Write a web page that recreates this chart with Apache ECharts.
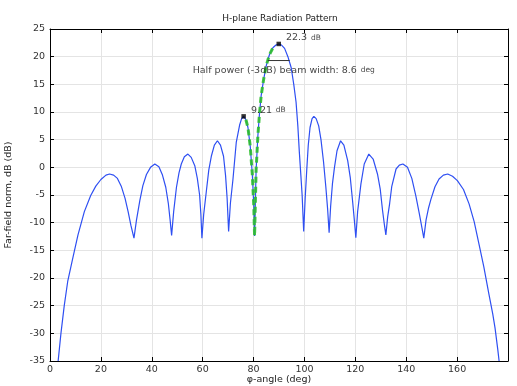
<!DOCTYPE html>
<html>
<head>
<meta charset="utf-8">
<script src="https://cdn.jsdelivr.net/npm/echarts@6/dist/echarts.min.js"></script>
<style>html,body{margin:0;padding:0;background:#fff;}#c{width:517px;height:386px;}</style>
</head>
<body>
<div id="c"></div>
<script>
// φ-angle (deg) and far-field norm (dB)
const angleDeg = [
  3.2, 4.3, 5.6, 7.0, 9.0, 11.0, 13.5, 16.0, 18.0, 20.0, 22.0, 23.4, 25.0, 26.5, 28.0, 29.5, 30.7, 31.8, 33.0,
  34.0, 35.3, 36.5, 37.9, 39.5, 41.2, 42.8, 44.2, 45.5, 46.5, 47.2, 47.8,
  48.6, 49.7, 50.7, 51.6, 52.8, 54.2, 55.5, 56.9, 57.9, 58.8, 59.3, 59.7,
  60.4, 61.4, 62.4, 63.4, 64.6, 65.8, 67.0, 68.2, 69.0, 69.6, 70.2,
  70.9, 71.9, 73.2, 74.5, 75.3, 76.1, 77.0, 77.8, 78.7, 79.5, 80.1, 80.4,
  81.0, 81.7, 82.3, 83.0, 84.0, 85.0, 86.2, 87.6, 88.8, 89.9, 91.0, 92.2, 93.5, 94.8, 95.8, 96.7, 97.4, 98.0, 98.6, 99.1, 99.7,
  100.3, 100.9, 101.5, 102.2, 103.0, 103.7, 104.6, 105.6, 106.5, 107.5, 108.4, 109.1, 109.7,
  110.3, 111.0, 111.8, 112.8, 114.2, 115.5, 117.0, 118.0, 118.9, 119.6, 120.2,
  120.9, 122.2, 123.5, 125.3, 127.0, 128.7, 129.8, 130.7, 131.4, 132.0,
  132.7, 133.5, 134.3, 136.0, 137.3, 138.7, 140.5, 142.2, 143.8, 145.2, 146.2, 146.9,
  147.8, 148.8, 149.7, 151.3, 152.9, 154.6, 156.3, 158.2, 160.1, 162.5, 164.7, 166.7, 168.6, 170.5, 172.5, 174.0, 174.9, 176.0, 176.5
];
const farFieldDb = [
  -35, -30, -25, -20.5, -16.3, -12.2, -8.0, -5.1, -3.4, -2.2, -1.4, -1.2, -1.4, -2.0, -3.4, -5.6, -8.0, -10.5, -12.8,
  -9.5, -6.0, -3.3, -1.3, 0.0, 0.6, 0.1, -1.4, -3.6, -6.5, -9.5, -12.3,
  -8.0, -3.6, -1.0, 0.6, 1.9, 2.4, 1.8, 0.3, -2.0, -5.0, -8.5, -12.8,
  -8.5, -4.5, -0.5, 2.0, 4.0, 4.8, 4.0, 2.0, -1.5, -5.5, -11.6,
  -6.5, -2.2, 4.5, 7.6, 8.8, 9.21, 8.6, 7.2, 3.8, -1.2, -7.0, -12.4,
  -0.5, 5.7, 9.5, 13.0, 16.0, 18.4, 20.3, 21.6, 22.1, 22.3, 22.1, 21.5, 20.0, 18.0, 15.0, 11.8, 7.5, 2.7, -1.5, -5.1, -11.6,
  -5.5, -0.5, 4.0, 7.2, 8.8, 9.2, 8.8, 7.5, 5.0, 1.0, -3.5, -7.5, -11.8,
  -7.0, -3.0, 0.0, 3.0, 4.8, 4.0, 1.2, -1.8, -6.0, -9.5, -12.7,
  -8.0, -3.0, 0.6, 2.4, 1.5, -1.2, -4.0, -7.8, -10.3, -12.2,
  -9.0, -6.5, -3.5, -0.3, 0.4, 0.6, 0.0, -2.0, -5.2, -8.5, -11.0, -12.8,
  -9.5, -7.3, -5.8, -3.5, -2.1, -1.4, -1.2, -1.6, -2.4, -4.0, -6.6, -9.8, -13.9, -18.0, -22.9, -26.5, -29.0, -33.0, -35
];
// highlighted stretch (green dashed) between the first side-lobe peak and the main peak
const highlightRange = [77.0, 87.6];
// peak markers
const peakAngles = [76.1, 89.9];
const peakValues = [9.21, 22.3];
const peakLabels = ['9.21', '22.3'];
// half power beam width line
const halfPowerAngles = [85.6, 94.2];
const halfPowerLevel = 19.3;
const beamWidthLabel = '8.6';

const curve = angleDeg.map((a, i) => [a, farFieldDb[i]]);
const highlight = curve.filter(p => p[0] >= highlightRange[0] && p[0] <= highlightRange[1]);
const peaks = peakAngles.map((a, i) => ({ value: [a, peakValues[i]], name: peakLabels[i] }));
const hpLine = halfPowerAngles.map(a => [a, halfPowerLevel]);
const hpMid = [(halfPowerAngles[0] + halfPowerAngles[1]) / 2, halfPowerLevel];

const FONT = 'DejaVu Sans';
const gridColor = '#e4e4e4';
const chart = echarts.init(document.getElementById('c'), null, { renderer: 'canvas' });

const baseX = {
  type: 'value', min: 0, max: 180, interval: 20,
  axisLine: { show: true, onZero: false, lineStyle: { color: '#000', width: 1 } },
  axisTick: { show: true, inside: true, length: 4, lineStyle: { color: '#000' } },
  splitLine: { show: false }
};
const baseY = {
  type: 'value', min: -35, max: 25, interval: 5,
  axisLine: { show: true, onZero: false, lineStyle: { color: '#000', width: 1 } },
  axisTick: { show: true, inside: true, length: 4, lineStyle: { color: '#000' } },
  splitLine: { show: false }
};

chart.setOption({
  animation: false,
  backgroundColor: '#fff',
  textStyle: { fontFamily: FONT },
  title: {
    text: 'H-plane Radiation Pattern',
    left: 275, top: 9, textAlign: 'center',
    textStyle: { fontFamily: FONT, fontSize: 9, fontWeight: 'normal', color: '#222' }
  },
  grid: { left: 50, right: 9, top: 29, bottom: 25, containLabel: false, outerBoundsMode: 'none' },
  xAxis: [
    Object.assign({}, baseX, {
      position: 'bottom',
      name: 'φ-angle (deg)', nameLocation: 'middle', nameGap: 14, nameMoveOverlap: false,
      nameTextStyle: { fontFamily: FONT, fontSize: 9.5, color: '#222', verticalAlign: 'top' },
      axisLabel: { show: true, margin: 4, fontFamily: FONT, fontSize: 9.5, color: '#333', showMaxLabel: false },
      splitLine: { show: true, lineStyle: { color: gridColor, width: 1 } }
    }),
    Object.assign({}, baseX, { position: 'top', axisLabel: { show: false } })
  ],
  yAxis: [
    Object.assign({}, baseY, {
      position: 'left',
      name: 'Far-field norm, dB (dB)', nameLocation: 'middle', nameGap: 36, nameRotate: 90,
      nameTextStyle: { fontFamily: FONT, fontSize: 9.5, color: '#222' },
      axisLabel: { show: true, margin: 5, fontFamily: FONT, fontSize: 9.5, color: '#333' },
      splitLine: { show: true, lineStyle: { color: gridColor, width: 1 } }
    }),
    Object.assign({}, baseY, { position: 'right', axisLabel: { show: false } })
  ],
  series: [
    {
      type: 'line', data: curve, showSymbol: false, symbol: 'none',
      lineStyle: { color: '#2e4ff2', width: 1.2 }, z: 3, clip: true
    },
    {
      type: 'line', data: highlight, showSymbol: false, symbol: 'none',
      lineStyle: { color: 'rgba(45,190,45,0.9)', width: 3, type: [6, 4] }, z: 4
    },
    {
      type: 'line', data: hpLine, showSymbol: false, symbol: 'none',
      lineStyle: { color: '#333', width: 1 }, z: 5
    },
    {
      type: 'scatter', data: [hpMid], symbolSize: 1, itemStyle: { color: 'rgba(0,0,0,0)' }, z: 6,
      label: {
        show: true, position: 'bottom', distance: 3, offset: [5, 0],
        formatter: '{t|Half power (-3dB) beam width: ' + beamWidthLabel + '} {u|deg}',
        rich: {
          t: { fontFamily: FONT, fontSize: 9.5, color: '#111' },
          u: { fontFamily: FONT, fontSize: 7.5, color: '#111' }
        }
      }
    },
    {
      type: 'scatter', data: peaks, symbol: 'rect', symbolSize: 4.5,
      itemStyle: { color: '#000' }, z: 7,
      label: {
        show: true, position: 'right', distance: 5, offset: [0, -6],
        formatter: p => '{v|' + p.name + '} {u|dB}',
        rich: {
          v: { fontFamily: FONT, fontSize: 9.5, color: '#111' },
          u: { fontFamily: FONT, fontSize: 7.5, color: '#111' }
        }
      }
    }
  ]
});
</script>
</body>
</html>
